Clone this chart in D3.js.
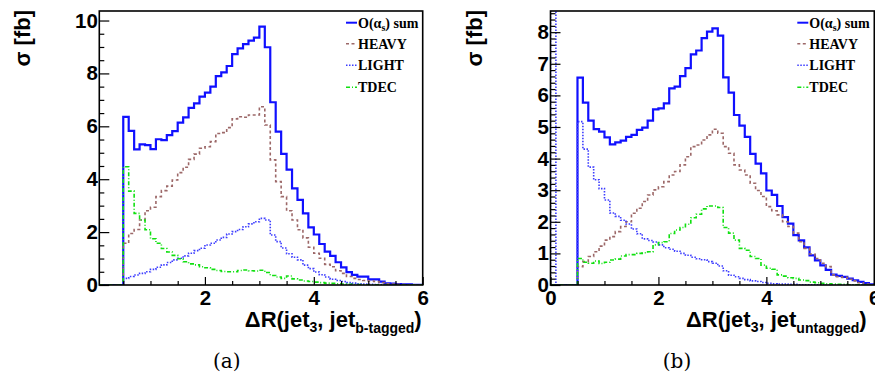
<!DOCTYPE html>
<html>
<head>
<meta charset="utf-8">
<script src="https://cdn.jsdelivr.net/npm/d3@7"></script>
<style>
  body { margin: 0; background: #fff; }
  svg { display: block; }
  .axis text { font-family: "Liberation Sans", Arial, sans-serif; font-weight: bold; font-size: 20.5px; fill: #000; }
  .axis line { stroke: #000; stroke-width: 1.2; }
  .title { font-family: "Liberation Sans", Arial, sans-serif; font-weight: bold; font-size: 22px; }
  .legend { font-family: "Liberation Serif", "Times New Roman", serif; font-weight: bold; font-size: 14px; }
  .caption { font-family: "DejaVu Serif", "Liberation Serif", serif; font-size: 20px; }
</style>
</head>
<body>
<div id="chart"></div>
<script>
// histogram bins: 0.1 wide, first one starts at dR = 0.5
const binStart = 0.5, binWidth = 0.1

const legendLabels = ['HEAVY', 'LIGHT', 'TDEC']

// panel (a): dR(jet3, jet b-tagged)
const sumA = [6.36, 5.83, 5.13, 5.32, 5.29, 5.14, 5.51, 5.48, 5.67, 5.82,
  6.14, 6.34, 6.70, 6.87, 7.12, 7.27, 7.50, 7.90, 8.04, 8.28,
  8.73, 8.95, 9.11, 9.24, 9.35, 9.77, 8.99, 6.91, 5.80, 4.96,
  4.36, 3.65, 3.22, 2.71, 2.18, 1.91, 1.55, 1.26, 1.10, 0.86,
  0.67, 0.49, 0.38, 0.32, 0.32, 0.21, 0.21, 0.13, 0.06, 0.05,
  0.03, 0.02, 0.02, 0.01, 0.01]
const heavyA = [1.58, 1.95, 2.10, 2.46, 2.81, 2.94, 3.34, 3.57, 3.74, 3.97,
  4.25, 4.45, 4.75, 4.95, 5.17, 5.23, 5.42, 5.73, 5.76, 5.95,
  6.28, 6.36, 6.34, 6.43, 6.43, 6.74, 6.05, 4.73, 3.91, 3.34,
  2.81, 2.46, 2.09, 1.78, 1.43, 1.20, 1.01, 0.78, 0.69, 0.54,
  0.44, 0.32, 0.25, 0.21, 0.17, 0.15, 0.13, 0.09, 0.05, 0.04,
  0.03, 0.02, 0.01, 0.01, 0.01]
const lightA = [0.25, 0.32, 0.38, 0.44, 0.50, 0.59, 0.67, 0.76, 0.85, 0.95,
  1.01, 1.10, 1.20, 1.30, 1.39, 1.51, 1.58, 1.70, 1.80, 1.93,
  2.02, 2.10, 2.20, 2.31, 2.39, 2.52, 2.46, 1.89, 1.64, 1.40,
  1.18, 1.05, 0.95, 0.75, 0.62, 0.49, 0.39, 0.30, 0.22, 0.17,
  0.13, 0.09, 0.07, 0.05, 0.04, 0.03, 0.02, 0.02, 0.01, 0.01,
  0.01, 0, 0, 0, 0]
const tdecA = [4.47, 3.55, 2.71, 2.46, 2.09, 1.75, 1.58, 1.38, 1.25, 1.12,
  0.99, 0.88, 0.80, 0.76, 0.69, 0.65, 0.59, 0.55, 0.51, 0.50,
  0.50, 0.55, 0.57, 0.54, 0.53, 0.56, 0.47, 0.36, 0.30, 0.25,
  0.34, 0.23, 0.19, 0.15, 0.13, 0.11, 0.09, 0.07, 0.06, 0.05,
  0.04, 0.03, 0.02, 0.02, 0.01, 0.01, 0.01, 0, 0, 0,
  0, 0, 0, 0, 0]

// panel (b): dR(jet3, jet untagged)
const sumB = [6.56, 5.77, 5.20, 4.93, 4.85, 4.67, 4.45, 4.51, 4.57, 4.69,
  4.75, 4.91, 4.98, 5.20, 5.56, 5.59, 5.75, 6.22, 6.28, 6.61,
  6.86, 7.30, 7.42, 7.81, 8.02, 8.12, 7.89, 6.57, 6.09, 5.38,
  5.04, 4.69, 4.15, 3.84, 3.53, 2.99, 2.85, 2.50, 2.15, 1.94,
  1.58, 1.41, 1.19, 0.94, 0.78, 0.62, 0.48, 0.33, 0.29, 0.26,
  0.20, 0.15, 0.10, 0.06, 0.02]
const heavyB = [0.58, 0.74, 0.90, 1.05, 1.23, 1.42, 1.53, 1.69, 1.85, 2.00,
  2.27, 2.43, 2.64, 2.85, 3.01, 3.11, 3.27, 3.48, 3.59, 3.80,
  4.06, 4.38, 4.43, 4.59, 4.75, 4.93, 4.80, 4.38, 4.17, 3.80,
  3.64, 3.48, 3.22, 2.99, 2.80, 2.48, 2.35, 2.22, 2.00, 1.85,
  1.64, 1.37, 1.16, 0.98, 0.84, 0.69, 0.58, 0.32, 0.26, 0.24,
  0.18, 0.13, 0.07, 0.03, 0.01]
const lightB = [5.17, 4.30, 3.73, 3.33, 3.05, 2.69, 2.28, 2.17, 2.05, 1.93,
  1.77, 1.62, 1.46, 1.41, 1.36, 1.27, 1.18, 1.13, 1.07, 1.00,
  0.94, 0.88, 0.83, 0.80, 0.74, 0.69, 0.60, 0.45, 0.31, 0.26,
  0.21, 0.17, 0.13, 0.11, 0.08, 0.05, 0.04, 0.03, 0.03, 0.02,
  0.02, 0.01, 0.01, 0.01, 0.01, 0.01, 0, 0, 0, 0,
  0, 0, 0, 0, 0]
// the [0, 0.1] bin of LIGHT in (b) runs off the top of the frame
const lightBLowBin = [20]
const tdecB = [0.84, 0.72, 0.69, 0.76, 0.68, 0.72, 0.79, 0.82, 0.92, 0.96,
  0.96, 1.00, 1.02, 1.05, 1.27, 1.34, 1.37, 1.63, 1.74, 1.82,
  1.92, 2.13, 2.24, 2.41, 2.50, 2.50, 2.45, 1.82, 1.64, 1.42,
  1.16, 1.10, 0.90, 0.84, 0.63, 0.53, 0.50, 0.32, 0.28, 0.23,
  0.21, 0.16, 0.14, 0.09, 0.07, 0.05, 0.04, 0.03, 0.02, 0.02,
  0.01, 0.01, 0.01, 0, 0]

const xMajorA = [2, 4, 6], yMajorA = [0, 2, 4, 6, 8, 10]
const xMajorB = [0, 2, 4, 6], yMajorB = [0, 1, 2, 3, 4, 5, 6, 7, 8]

const styles = [
  { color: '#1010ff', width: 2.2, dash: null },
  { color: '#9c6868', width: 1.6, dash: '3,2.5' },
  { color: '#3c3cff', width: 1.6, dash: '1.5,1.5' },
  { color: '#10e010', width: 1.6, dash: '4,2,1,2' }
]

const width = 875, height = 375

const svg = d3.select('#chart').append('svg')
  .attr('width', width)
  .attr('height', height)

const panels = [
  {
    id: 'a', left: 99.3, right: 422.7, top: 11, bottom: 285,
    xDomain: [0.06, 6], yDomain: [0, 10.36],
    xMajor: xMajorA, yMajor: yMajorA, xMinorStep: 0.5, yMinorStep: 0.5,
    series: [{ v: sumA }, { v: heavyA }, { v: lightA }, { v: tdecA }],
    legendX: 346, titleX: 421.7, sub: 'b-tagged', yTitleX: 30, captionX: 226.7, caption: '(a)'
  },
  {
    id: 'b', left: 550.5, right: 874.3, top: 11, bottom: 285,
    xDomain: [0, 6], yDomain: [0, 8.67],
    xMajor: xMajorB, yMajor: yMajorB, xMinorStep: 0.5, yMinorStep: 0.2,
    series: [{ v: sumB }, { v: heavyB }, { v: lightB, low: lightBLowBin }, { v: tdecB }],
    legendX: 797.3, titleX: 866.7, sub: 'untagged', yTitleX: 482, captionX: 677, caption: '(b)'
  }
]

let drawPanel = (p) => {
  const x = d3.scaleLinear().domain(p.xDomain).range([p.left, p.right])
  const y = d3.scaleLinear().domain(p.yDomain).range([p.bottom, p.top])
  const g = svg.append('g')

  g.append('clipPath').attr('id', 'clip-' + p.id)
    .append('rect')
    .attr('x', p.left).attr('y', p.top)
    .attr('width', p.right - p.left).attr('height', p.bottom - p.top)

  const line = d3.line()
    .x(d => x(d.x))
    .y(d => y(d.v))
    .curve(d3.curveStepAfter)

  // histograms, sum first so the components sit on top
  p.series.forEach((s, i) => {
    let pts = [{ x: p.xDomain[0], v: 0 }]
    if (s.low) {
      s.low.forEach((v, j) => pts.push({ x: j * binWidth, v: v }))
      pts.push({ x: s.low.length * binWidth, v: 0 })
    }
    s.v.forEach((v, j) => pts.push({ x: binStart + j * binWidth, v: v }))
    pts.push({ x: binStart + s.v.length * binWidth, v: s.v[s.v.length - 1] })
    g.append('path')
      .datum(pts)
      .attr('clip-path', 'url(#clip-' + p.id + ')')
      .attr('fill', 'none')
      .attr('stroke', styles[i].color)
      .attr('stroke-width', styles[i].width)
      .attr('stroke-dasharray', styles[i].dash)
      .attr('d', line)
  })

  // axes with ROOT-style inward ticks
  const xMinor = d3.range(0, p.xDomain[1] + 1e-9, p.xMinorStep)
    .filter(v => v >= p.xDomain[0] && !p.xMajor.includes(v))
  const yMinor = d3.range(0, p.yDomain[1], p.yMinorStep)
    .map(v => Math.round(v * 100) / 100)
    .filter(v => !p.yMajor.includes(v))

  g.append('g').attr('class', 'axis')
    .attr('transform', `translate(0,${p.bottom})`)
    .call(d3.axisBottom(x).tickValues(p.xMajor).tickSizeInner(-8).tickSizeOuter(0).tickPadding(5).tickFormat(d3.format('d')))
    .call(a => a.select('.domain').remove())
  g.append('g').attr('class', 'axis')
    .attr('transform', `translate(0,${p.bottom})`)
    .call(d3.axisBottom(x).tickValues(xMinor).tickSizeInner(-4).tickSizeOuter(0).tickFormat(''))
    .call(a => a.select('.domain').remove())
  g.append('g').attr('class', 'axis')
    .attr('transform', `translate(${p.left},0)`)
    .call(d3.axisLeft(y).tickValues(p.yMajor).tickSizeInner(-10).tickSizeOuter(0).tickPadding(1.5).tickFormat(d3.format('d')))
    .call(a => a.select('.domain').remove())
  g.append('g').attr('class', 'axis')
    .attr('transform', `translate(${p.left},0)`)
    .call(d3.axisLeft(y).tickValues(yMinor).tickSizeInner(-5).tickSizeOuter(0).tickFormat(''))
    .call(a => a.select('.domain').remove())

  // frame
  g.append('rect')
    .attr('x', p.left).attr('y', p.top)
    .attr('width', p.right - p.left).attr('height', p.bottom - p.top)
    .attr('fill', 'none').attr('stroke', '#000').attr('stroke-width', 1.6)

  // legend
  const rows = [p.top + 11.7, p.top + 32.7, p.top + 54.3, p.top + 76.3]
  rows.forEach((ry, i) => {
    g.append('line')
      .attr('x1', p.legendX).attr('x2', p.legendX + 11)
      .attr('y1', ry).attr('y2', ry)
      .attr('stroke', styles[i].color)
      .attr('stroke-width', i === 0 ? 2 : 1.4)
      .attr('stroke-dasharray', styles[i].dash)
    const t = g.append('text').attr('class', 'legend')
      .attr('x', p.legendX + 12).attr('y', ry).attr('dy', '0.35em')
    if (i === 0) {
      t.append('tspan').text('O(α')
      t.append('tspan').attr('font-size', 10).attr('dy', 3).text('s')
      t.append('tspan').attr('dy', -3).text(') sum')
    } else {
      t.text(legendLabels[i - 1])
    }
  })

  // x title
  const xt = g.append('text').attr('class', 'title')
    .attr('x', p.titleX).attr('y', 327).attr('text-anchor', 'end')
  xt.append('tspan').text('ΔR(jet')
  xt.append('tspan').attr('font-size', 14).attr('dy', 5).text('3')
  xt.append('tspan').attr('dy', -5).text(', jet')
  xt.append('tspan').attr('font-size', 14).attr('dy', 6).text(p.sub)
  xt.append('tspan').attr('dy', -6).text(')')

  // y title
  g.append('text').attr('class', 'title')
    .attr('font-size', 20)
    .attr('transform', `translate(${p.yTitleX},10) rotate(-90)`)
    .attr('text-anchor', 'end')
    .text('σ [fb]')

  // caption
  g.append('text').attr('class', 'caption')
    .attr('x', p.captionX).attr('y', 368).attr('text-anchor', 'middle')
    .text(p.caption)
}

panels.forEach(drawPanel)
</script>
</body>
</html>
